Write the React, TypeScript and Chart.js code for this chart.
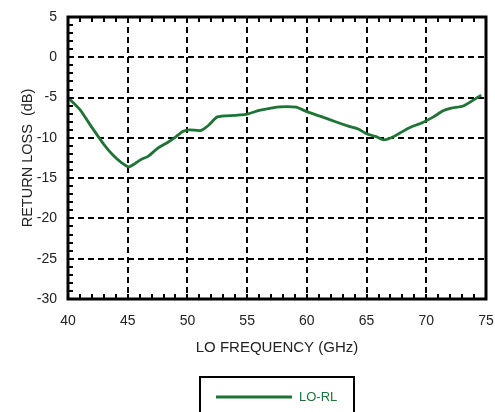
import React, { useEffect, useRef } from "react";
import { Chart, registerables } from "chart.js";

Chart.register(...registerables);

const freqGHz = [40, 41, 42, 43, 43.8, 44.5, 45.1, 45.6, 46.1, 46.7, 47.5, 48.3, 49, 49.6, 50.2, 51.1, 51.8, 52.5, 54, 55, 56, 57, 57.8, 59.1, 60, 61.1, 62.4, 63.6, 64.3, 65, 65.8, 66.4, 67.2, 68.5, 69.7, 70.6, 71.4, 72.1, 73.1, 74.6];
const returnLossDb = [-5.0, -6.5, -8.7, -10.8, -12.2, -13.1, -13.6, -13.2, -12.7, -12.3, -11.3, -10.6, -9.9, -9.2, -9.0, -9.1, -8.4, -7.4, -7.2, -7.05, -6.6, -6.3, -6.15, -6.2, -6.75, -7.3, -8.0, -8.6, -8.9, -9.5, -9.85, -10.25, -9.9, -8.8, -8.1, -7.4, -6.65, -6.3, -6.05, -4.7];
const seriesLabel = "LO-RL";
const xTitle = "LO FREQUENCY (GHz)";
const yTitle = "RETURN LOSS  (dB)";
const xRange = [40, 75];
const yRange = [-30, 5];

const GREEN = "#1f7435";
const FONT = "'Liberation Sans', Arial, Helvetica, sans-serif";

const framePlugin = {
  id: "frameAndTicks",
  afterDraw(chart: any) {
    const { ctx, chartArea } = chart;
    const xs = chart.scales.x;
    const ys = chart.scales.y;
    ctx.save();
    // minor ticks (inward)
    ctx.strokeStyle = "#000";
    ctx.lineWidth = 2;
    ctx.beginPath();
    for (let v = xRange[0] + 1; v < xRange[1]; v++) {
      const px = Math.round(xs.getPixelForValue(v));
      ctx.moveTo(px, chartArea.top);
      ctx.lineTo(px, chartArea.top + 5);
      ctx.moveTo(px, chartArea.bottom);
      ctx.lineTo(px, chartArea.bottom - 5);
    }
    for (let v = yRange[0] + 1; v < yRange[1]; v++) {
      const py = Math.round(ys.getPixelForValue(v));
      ctx.moveTo(chartArea.left, py);
      ctx.lineTo(chartArea.left + 5, py);
    }
    ctx.stroke();
    // frame
    ctx.lineWidth = 3;
    ctx.strokeRect(chartArea.left, chartArea.top, chartArea.right - chartArea.left, chartArea.bottom - chartArea.top);

    // legend box
    const ds = chart.data.datasets[0];
    const cx = (chartArea.left + chartArea.right) / 2;
    const top = xs.bottom + 18;
    ctx.lineWidth = 2;
    ctx.strokeRect(cx - 77, top, 154, 80);
    ctx.strokeStyle = ds.borderColor;
    ctx.lineWidth = 3;
    ctx.beginPath();
    ctx.moveTo(cx - 61, top + 20);
    ctx.lineTo(cx + 15, top + 20);
    ctx.stroke();
    ctx.fillStyle = ds.borderColor;
    ctx.font = `13px ${FONT}`;
    ctx.textBaseline = "middle";
    ctx.textAlign = "left";
    ctx.fillText(ds.label, cx + 22, top + 20);
    ctx.restore();
  },
};

export default function App() {
  const ref = useRef<HTMLCanvasElement | null>(null);
  useEffect(() => {
    if (!ref.current) return;
    const chart = new Chart(ref.current, {
      type: "line",
      data: {
        datasets: [
          {
            label: seriesLabel,
            data: freqGHz.map((f, i) => ({ x: f, y: returnLossDb[i] })),
            borderColor: GREEN,
            backgroundColor: GREEN,
            borderWidth: 2.8,
            pointRadius: 0,
            tension: 0.2,
            fill: false,
          },
        ],
      },
      options: {
        responsive: false,
        animation: false,
        layout: { padding: { top: 17, right: 9, left: 0, bottom: 53 } },
        plugins: { legend: { display: false }, tooltip: { enabled: false } },
        scales: {
          x: {
            type: "linear",
            min: xRange[0],
            max: xRange[1],
            ticks: { stepSize: 5, padding: 0, color: "#222", font: { family: FONT, size: 14 } },
            grid: { color: "#000", lineWidth: 2, drawTicks: true, tickLength: 14, tickColor: "rgba(0,0,0,0)" },
            border: { display: false, dash: [6, 4] },
            title: { display: true, text: xTitle, color: "#222", font: { family: FONT, size: 15 }, padding: { top: 0, bottom: 2 } },
            afterFit: (s: any) => { s.height = 60; },
          },
          y: {
            min: yRange[0],
            max: yRange[1],
            ticks: { stepSize: 5, padding: 0, color: "#222", font: { family: FONT, size: 14 } },
            grid: { color: "#000", lineWidth: 2, drawTicks: true, tickLength: 11, tickColor: "rgba(0,0,0,0)" },
            border: { display: false, dash: [6, 4] },
            title: { display: true, text: yTitle, color: "#222", font: { family: FONT, size: 14.5 }, padding: { top: 19, bottom: 0 } },
            afterFit: (s: any) => { s.width = 68; },
          },
        },
      },
      plugins: [framePlugin],
    });
    return () => chart.destroy();
  }, []);
  return (
    <div style={{ position: "absolute", left: 0, top: 0, width: 495, height: 412, background: "#fff" }}>
      <canvas ref={ref} width={495} height={412} style={{ width: 495, height: 412 }} />
    </div>
  );
}
